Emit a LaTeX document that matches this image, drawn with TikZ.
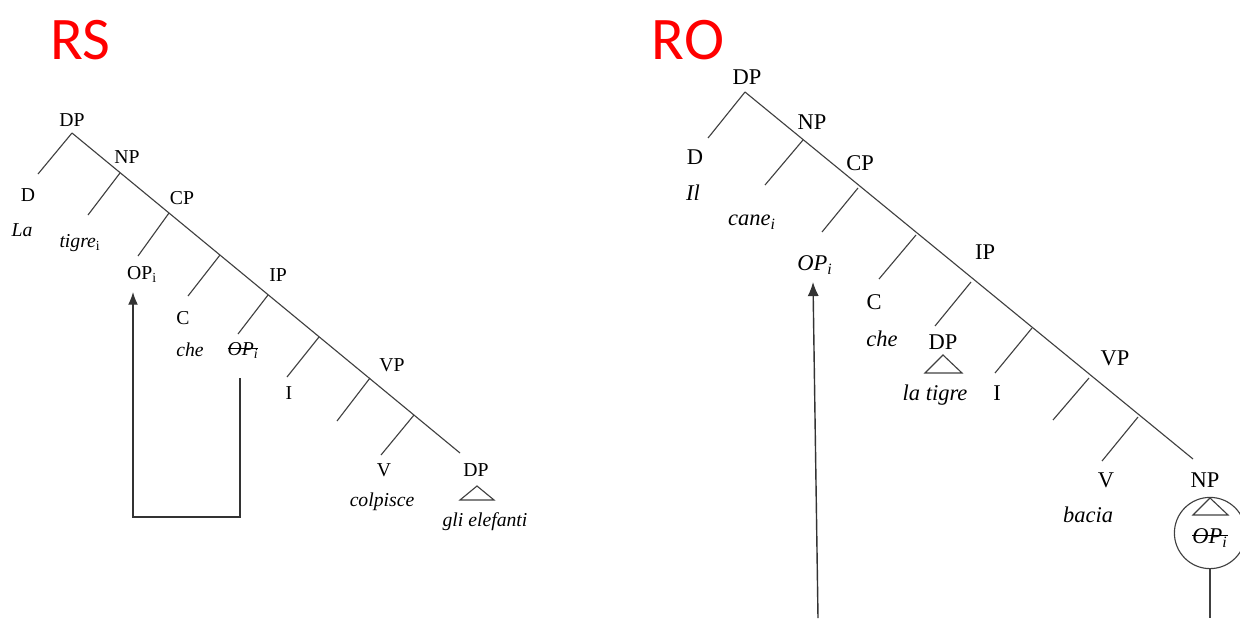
\documentclass[tikz,border=0pt]{standalone}
\usepackage{fontspec}
\setmainfont{Liberation Serif}
\newfontfamily\titlefont{Carlito}
\usepackage{tikz}
\usetikzlibrary{positioning}
\usetikzlibrary{arrows.meta}

\newcommand{\struck}[1]{\setbox0\hbox{#1}\rlap{\rule[0.33em]{\wd0}{0.6pt}}\box0}

\begin{document}
\begin{tikzpicture}[x=0.025cm, y=-0.025cm]

    \tikzset{
        title/.style={
            text=red,
            font=\titlefont\fontsize{43}{46}\selectfont
        },
        cat/.style={
            inner sep=1pt,
            font=\fontsize{14}{16}\selectfont
        },
        word/.style={
            inner sep=1pt,
            font=\fontsize{14}{16}\selectfont\itshape
        },
        bigcat/.style={
            inner sep=1pt,
            font=\fontsize{16}{18}\selectfont
        },
        bigword/.style={
            inner sep=1pt,
            font=\fontsize{16}{18}\selectfont\itshape
        },
        branch/.style={
            line width=0.8pt,
            draw=black!75
        }
    }
    \useasboundingbox (0,0) rectangle (1240,618);

    % RS
    \node[title] (rs) at (80,40) {RS};

    \node[cat] (rsDP) at (72,120) {DP};
    \node[cat] (rsNP) at (127,157) {NP};
    \node[cat] (rsCP) at (182,198) {CP};
    \node[cat] (rsIP) at (278,275) {IP};
    \node[cat] (rsVP) at (392,365) {VP};

    \coordinate (rsTop) at (72,133);
    \coordinate (rsEnd) at (460,453);
    \coordinate (j1) at (120,173);
    \coordinate (j2) at (169,213);
    \coordinate (j3) at (220,255);
    \coordinate (j4) at (268,295);
    \coordinate (j5) at (319,337);
    \coordinate (j6) at (370,378);
    \coordinate (j7) at (414,415);
    \coordinate (e0) at (38,174);
    \coordinate (e1) at (88,215);
    \coordinate (e2) at (138,256);
    \coordinate (e3) at (188,296);
    \coordinate (e4) at (238,334);
    \coordinate (e5) at (287,377);
    \coordinate (e6) at (337,421);
    \coordinate (e7) at (381,455);

    \draw[branch] (rsTop) -- (rsEnd);
    \draw[branch] (rsTop) -- (e0);
    \foreach \i in {1,...,7} {
        \draw[branch] (j\i) -- (e\i);
    }

    \node[cat] (rsD) at (28,195) {D};
    \node[word] (la) at (22,230) {La};
    \node[word] (tigre) at (80,243) {tigre\textsubscript{\upshape i}};
    \node[cat] (rsOP) at (142,274) {OP\textsubscript{i}};
    \node[cat] (rsC) at (183,318) {C};
    \node[word] (rsche) at (190,350) {che};
    \node[word] (rsOPt) at (243,350) {\struck{OP\textsubscript{i}}};
    \node[cat] (rsI) at (289,393) {I};
    \node[cat] (rsV) at (384,470) {V};
    \node[word] (colpisce) at (382,502) {colpisce};
    \node[cat] (rsObj) at (476,470) {DP};
    \node[word] (elefanti) at (485,522) {gli elefanti};
    \draw[branch] (477,486) -- (460,500) -- (494,500) -- cycle;

    \coordinate (rsTr) at (240,378);
    \coordinate (rsBl) at (133,517);
    \coordinate (rsTip) at (133,292);
    \draw[line width=0.9pt, draw=black!80, -{Latex[length=9pt,width=7pt]}] (rsTr) |- (rsBl) -- (rsTip);

    % RO
    \node[title] (ro) at (688,40) {RO};

    \node[bigcat] (roDP) at (747,77) {DP};
    \node[bigcat] (roNP) at (812,122) {NP};
    \node[bigcat] (roCP) at (860,163) {CP};
    \node[bigcat] (roIP) at (985,252) {IP};
    \node[bigcat] (roVP) at (1115,358) {VP};

    \coordinate (roTop) at (745,92);
    \coordinate (roEnd) at (1193,459);
    \coordinate (k1) at (803,140);
    \coordinate (k2) at (858,188);
    \coordinate (k3) at (916,235);
    \coordinate (k4) at (971,282);
    \coordinate (k5) at (1032,328);
    \coordinate (k6) at (1089,378);
    \coordinate (k7) at (1138,417);
    \coordinate (f0) at (708,138);
    \coordinate (f1) at (765,185);
    \coordinate (f2) at (822,232);
    \coordinate (f3) at (879,279);
    \coordinate (f4) at (935,326);
    \coordinate (f5) at (995,373);
    \coordinate (f6) at (1053,420);
    \coordinate (f7) at (1102,461);

    \draw[branch] (roTop) -- (roEnd);
    \draw[branch] (roTop) -- (f0);
    \foreach \i in {1,...,7} {
        \draw[branch] (k\i) -- (f\i);
    }

    \node[bigcat] (roD) at (695,157) {D};
    \node[bigword] (il) at (693,193) {Il};
    \node[bigword] (cane) at (752,222) {cane\textsubscript{i}};
    \node[bigword] (roOP) at (815,265) {OP\textsubscript{i}};
    \node[bigcat] (roC) at (874,302) {C};
    \node[bigword] (roche) at (882,339) {che};
    \node[bigcat] (roSubj) at (943,342) {DP};
    \draw[branch] (943,355) -- (925,373) -- (962,373) -- cycle;
    \node[bigword] (latigre) at (935,395) {la tigre};
    \node[bigcat] (roI) at (997,393) {I};
    \node[bigcat] (roV) at (1106,480) {V};
    \node[bigword] (bacia) at (1088,515) {bacia};
    \node[bigcat] (roObj) at (1205,480) {NP};
    \node[draw=black!75, circle, line width=0.8pt, minimum size=1.78cm] (gap) at (1210,533) {};
    \draw[branch] (1210,498) -- (1193,515) -- (1228,515) -- cycle;
    \node[bigword] (roOPt) at (1210,538) {\struck{OP\textsubscript{i}}};

    \coordinate (roLow) at (1210,618);
    \draw[branch] (gap.south) -- (roLow);

    \coordinate (roFoot) at (818,618);
    \coordinate (roTip) at (813,282);
    \draw[line width=1pt, draw=black!80, -{Latex[length=10pt,width=8pt]}] (roFoot) -- (roTip);

\end{tikzpicture}
\end{document}
